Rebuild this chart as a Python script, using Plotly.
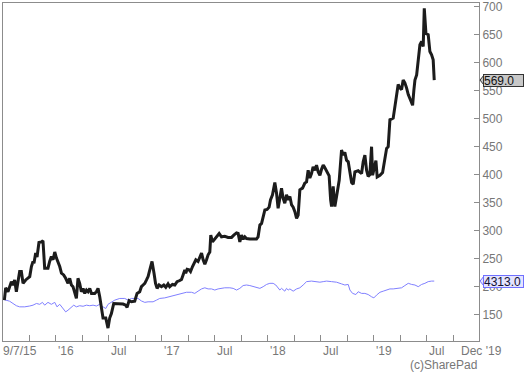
import plotly.graph_objects as go

# ---- data (time as decimal years, values in pence; index rebased to share price) ----
price_t = [2015.516, 2015.528, 2015.550, 2015.566, 2015.582, 2015.597, 2015.613, 2015.629, 2015.644, 2015.660,
           2015.676, 2015.692, 2015.717, 2015.739, 2015.755, 2015.771, 2015.786, 2015.795, 2015.811, 2015.824,
           2015.842, 2015.865, 2015.880, 2015.896, 2015.927, 2015.943, 2015.959, 2015.975, 2015.991, 2016.007,
           2016.022, 2016.038, 2016.054, 2016.075, 2016.094, 2016.116, 2016.132, 2016.148, 2016.163, 2016.179,
           2016.195, 2016.210, 2016.226, 2016.242, 2016.258, 2016.274, 2016.290, 2016.305, 2016.321, 2016.337,
           2016.368, 2016.384, 2016.399, 2016.415, 2016.431, 2016.446, 2016.472, 2016.493, 2016.509, 2016.525,
           2016.547, 2016.573, 2016.604, 2016.635, 2016.660, 2016.673, 2016.692, 2016.714, 2016.745, 2016.767,
           2016.792, 2016.808, 2016.824, 2016.840, 2016.856, 2016.871, 2016.887, 2016.908, 2016.927, 2016.941,
           2016.956, 2016.975, 2016.997, 2017.019, 2017.038, 2017.059, 2017.075, 2017.101, 2017.123, 2017.144,
           2017.170, 2017.186, 2017.201, 2017.217, 2017.226, 2017.239, 2017.258, 2017.271, 2017.290, 2017.302,
           2017.321, 2017.342, 2017.358, 2017.375, 2017.390, 2017.406, 2017.422, 2017.437, 2017.453, 2017.462,
           2017.478, 2017.500, 2017.522, 2017.541, 2017.563, 2017.594, 2017.625, 2017.658, 2017.679, 2017.705,
           2017.720, 2017.736, 2017.752, 2017.767, 2017.783, 2017.799, 2017.830, 2017.861, 2017.893, 2017.908,
           2017.925, 2017.941, 2017.956, 2017.972, 2017.993, 2018.012, 2018.025, 2018.044, 2018.066, 2018.082,
           2018.097, 2018.113, 2018.129, 2018.144, 2018.160, 2018.176, 2018.192, 2018.208, 2018.224, 2018.239,
           2018.255, 2018.271, 2018.286, 2018.302, 2018.327, 2018.349, 2018.365, 2018.380, 2018.396, 2018.412,
           2018.427, 2018.443, 2018.459, 2018.475, 2018.491, 2018.507, 2018.522, 2018.533, 2018.554, 2018.578,
           2018.592, 2018.601, 2018.616, 2018.632, 2018.648, 2018.673, 2018.695, 2018.710, 2018.726, 2018.742,
           2018.758, 2018.774, 2018.790, 2018.805, 2018.821, 2018.852, 2018.884, 2018.899, 2018.915, 2018.931,
           2018.946, 2018.962, 2018.978, 2018.988, 2019.003, 2019.019, 2019.031, 2019.057, 2019.082, 2019.104,
           2019.120, 2019.135, 2019.151, 2019.182, 2019.198, 2019.214, 2019.229, 2019.245, 2019.261, 2019.276,
           2019.292, 2019.308, 2019.324, 2019.346, 2019.365, 2019.377, 2019.387, 2019.403, 2019.418, 2019.434,
           2019.450, 2019.465, 2019.475, 2019.491, 2019.512, 2019.528, 2019.544, 2019.559, 2019.569]
price_v = [176, 198, 191, 200, 209, 203, 212, 191, 206, 227,
           227, 206, 212, 215, 218, 236, 245, 242, 260, 253,
           279, 280, 282, 233, 233, 245, 254, 248, 262, 251,
           245, 236, 224, 221, 215, 206, 215, 203, 200, 191,
           179, 215, 206, 191, 197, 188, 194, 191, 197, 188,
           188, 191, 197, 182, 161, 144, 144, 126, 144, 152,
           170, 170, 169, 169, 167, 163, 175, 173, 174, 188,
           191, 200, 203, 206, 212, 218, 230, 245, 224, 206,
           197, 203, 200, 203, 199, 205, 200, 204, 203, 209,
           211, 213, 221, 230, 224, 231, 230, 227, 236, 242,
           248, 245, 251, 260, 248, 240, 248, 257, 262, 292,
           280, 286, 292, 295, 289, 290, 288, 288, 292, 296,
           295, 280, 292, 285, 289, 286, 285, 285, 285, 289,
           310, 313, 328, 337, 338, 342, 355, 364, 386, 367,
           340, 355, 376, 358, 349, 364, 355, 361, 346, 342,
           334, 322, 328, 373, 376, 385, 387, 408, 394, 402,
           414, 408, 417, 405, 399, 410, 417, 414, 405, 398,
           355, 343, 379, 343, 361, 390, 444, 435, 440, 426,
           423, 405, 386, 383, 405, 407, 402, 423, 435, 408,
           397, 400, 450, 399, 414, 425, 396, 399, 404, 429,
           447, 450, 498, 501, 519, 540, 561, 555, 552, 569,
           564, 555, 543, 533, 524, 551, 569, 578, 608, 632,
           638, 629, 697, 652, 650, 620, 614, 605, 569]

index_t = [2015.503, 2015.535, 2015.566, 2015.597, 2015.629, 2015.660, 2015.708, 2015.755, 2015.786, 2015.818,
           2015.849, 2015.875, 2015.896, 2015.927, 2015.959, 2015.991, 2016.012, 2016.038, 2016.069, 2016.094,
           2016.116, 2016.148, 2016.170, 2016.195, 2016.226, 2016.258, 2016.290, 2016.321, 2016.352, 2016.384,
           2016.415, 2016.446, 2016.472, 2016.493, 2016.525, 2016.557, 2016.604, 2016.651, 2016.682, 2016.714,
           2016.745, 2016.776, 2016.808, 2016.840, 2016.871, 2016.918, 2016.950, 2016.981, 2017.028, 2017.075,
           2017.107, 2017.139, 2017.186, 2017.233, 2017.280, 2017.311, 2017.342, 2017.375, 2017.406, 2017.437,
           2017.469, 2017.500, 2017.531, 2017.563, 2017.594, 2017.642, 2017.673, 2017.705, 2017.736, 2017.767,
           2017.799, 2017.830, 2017.861, 2017.893, 2017.925, 2017.956, 2017.988, 2018.019, 2018.050, 2018.075,
           2018.097, 2018.113, 2018.129, 2018.144, 2018.160, 2018.176, 2018.192, 2018.208, 2018.239, 2018.271,
           2018.302, 2018.333, 2018.365, 2018.412, 2018.459, 2018.491, 2018.522, 2018.554, 2018.601, 2018.648,
           2018.695, 2018.726, 2018.758, 2018.774, 2018.799, 2018.830, 2018.852, 2018.884, 2018.915, 2018.946,
           2018.978, 2019.000, 2019.025, 2019.057, 2019.088, 2019.120, 2019.151, 2019.182, 2019.214, 2019.261,
           2019.292, 2019.324, 2019.356, 2019.387, 2019.418, 2019.450, 2019.481, 2019.512, 2019.544, 2019.569]
index_v = [177.5, 176, 174, 170, 166, 164, 164, 165.5, 167, 170,
           168.5, 172, 167, 172, 168.5, 172, 164, 168.5, 161, 155,
           158, 164, 167, 164, 166, 165, 167, 166, 167, 165.5,
           168.5, 164, 161, 168.5, 172, 176, 179, 179, 176, 179,
           179, 179, 174.5, 172, 173, 173, 176, 179, 180, 182,
           184, 185, 188, 190, 190, 188, 192, 196, 198, 196,
           196, 194, 196, 197, 198, 198, 197, 194, 197, 202,
           203, 202, 200, 198, 197, 200, 204, 206, 206, 203,
           198, 194, 197, 194, 192, 197, 194, 196, 192, 196,
           198, 203, 209, 210, 209, 208, 209, 210, 209, 208,
           205, 203, 204, 194, 188, 186, 191, 188, 188, 186,
           182, 180, 185, 190, 192, 194, 196, 196, 197, 198,
           202, 206, 204, 203, 200, 204, 206, 209, 210, 210]

price_label = "569.0"
index_label = "4313.0"

y_ticks = [150, 200, 250, 300, 350, 400, 450, 500, 550, 600, 650, 700]
x_tick_vals = [2015.75, 2016.0, 2016.25, 2016.5, 2016.75, 2017.0, 2017.25, 2017.5, 2017.75,
               2018.0, 2018.25, 2018.5, 2018.75, 2019.0, 2019.25, 2019.5, 2019.75]
x_label_pos = [2015.516, 2016.0, 2016.5, 2017.0, 2017.5, 2018.0, 2018.5, 2019.0, 2019.5]
x_label_text = ["9/7/15", "'16", "Jul", "'17", "Jul", "'18", "Jul", "'19", "Jul"]
x_end_label = "Dec '19"

X_RANGE = [2015.503, 2019.991]
Y_RANGE = [103, 706.6]
GREY = "#8c8c8c"
TXT = "#777777"
FONT = "Liberation Sans, Arial, sans-serif"

fig = go.Figure()
fig.add_trace(go.Scatter(x=index_t, y=index_v, mode="lines",
                         line=dict(color="#8080ff", width=1), hoverinfo="skip"))
fig.add_trace(go.Scatter(x=price_t, y=price_v, mode="lines",
                         line=dict(color="#1c1c1c", width=3), hoverinfo="skip"))

ann = []
for p, t in zip(x_label_pos, x_label_text):
    ann.append(dict(x=p, y=0, xref="x", yref="paper", text=t, showarrow=False,
                    xanchor="left", yanchor="top", yshift=-1, xshift=(-3 if t == "9/7/15" else 0),
                    font=dict(family=FONT, size=12, color=TXT)))
ann.append(dict(x=1, y=0, xref="paper", yref="paper", text=x_end_label, showarrow=False,
                xanchor="center", yanchor="top", yshift=-1, xshift=2,
                font=dict(family=FONT, size=12, color=TXT)))
ann.append(dict(x=1, y=0, xref="paper", yref="paper", text="(c)SharePad", showarrow=False,
                xanchor="right", yanchor="top", yshift=-15, xshift=0,
                font=dict(family=FONT, size=12, color=TXT)))
# last-value tags
ann.append(dict(x=1, y=price_v[-1], xref="paper", yref="y", text=price_label, showarrow=False,
                xanchor="left", yanchor="middle", xshift=4, width=39, height=11, align="left",
                bgcolor="#c8c8c8", bordercolor="#333333", borderwidth=1, borderpad=0,
                font=dict(family=FONT, size=12, color="#111111")))
ann.append(dict(x=1, y=index_v[-1], xref="paper", yref="y", text=index_label, showarrow=False,
                xanchor="left", yanchor="middle", xshift=4, width=39, height=11, align="left",
                bgcolor="#e4e4ff", bordercolor="#7070ff", borderwidth=1, borderpad=0,
                font=dict(family=FONT, size=12, color="#111133")))

shapes = []
for val, fc, lc in [(price_v[-1], "#c8c8c8", "#333333"), (index_v[-1], "#e4e4ff", "#7070ff")]:
    shapes.append(dict(type="path", xref="paper", yref="y", xsizemode="pixel", ysizemode="pixel",
                       xanchor=1, yanchor=val, path="M 1 0 L 5 5 L 5 -5 Z",
                       fillcolor=fc, line=dict(color=lc, width=1)))

fig.update_layout(
    width=525, height=372,
    margin=dict(l=3, r=46, t=3, b=31, autoexpand=False),
    paper_bgcolor="white", plot_bgcolor="white",
    showlegend=False,
    annotations=ann, shapes=shapes,
    xaxis=dict(range=X_RANGE, showgrid=False, zeroline=False, tickvals=x_tick_vals,
               ticks="inside", ticklen=6, tickcolor=GREY, tickwidth=1, showticklabels=False,
               showline=True, linecolor=GREY, linewidth=1, mirror=True),
    yaxis=dict(range=Y_RANGE, side="right", showgrid=False, zeroline=False, tickvals=y_ticks,
               ticks="inside", ticklen=5, tickcolor=GREY, tickwidth=1, ticklabeloverflow="allow",
               tickfont=dict(family=FONT, size=12, color=TXT),
               showline=True, linecolor=GREY, linewidth=1, mirror=True),
)

fig.write_html("out.html", config={"displayModeBar": False},
               post_script="document.body.style.margin='0';document.body.style.overflow='hidden';")
